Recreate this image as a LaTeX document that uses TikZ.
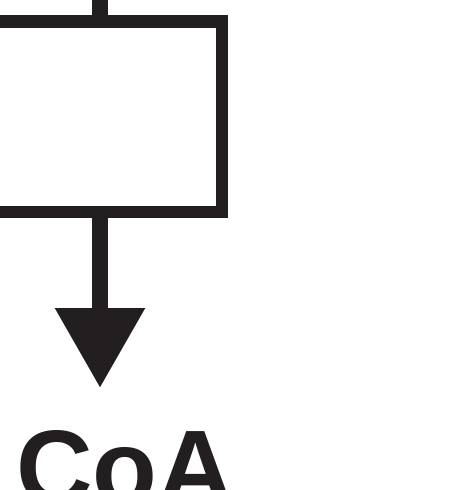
\documentclass[tikz,border=0pt]{standalone}
\usepackage{fontspec}
\setmainfont{Liberation Sans}
\usepackage{xcolor}
\usetikzlibrary{arrows.meta}
\definecolor{inkblack}{HTML}{231F20}

\begin{document}
\begin{tikzpicture}[x=1pt,y=1pt,inkblack]
\clip (0,0) rectangle (450,-490);
\useasboundingbox (0,0) rectangle (450,-490);

\coordinate (in) at (100,10);
\node[draw,line width=12.5pt,minimum width=244pt,minimum height=190.5pt,inner sep=0pt] (box) at (100,-116.75) {};
\coordinate (tip) at (100,-388);

\node[anchor=base west,inner sep=0pt,font=\fontsize{106}{106}\selectfont\bfseries] (coa) at (16,-504) {CoA};


\draw[line width=16pt] (in) -- (box.north) ;
\draw[line width=16pt,-{Triangle[width=86pt,length=80pt]}] (box.south) -- (tip) ;
\end{tikzpicture}
\end{document}
